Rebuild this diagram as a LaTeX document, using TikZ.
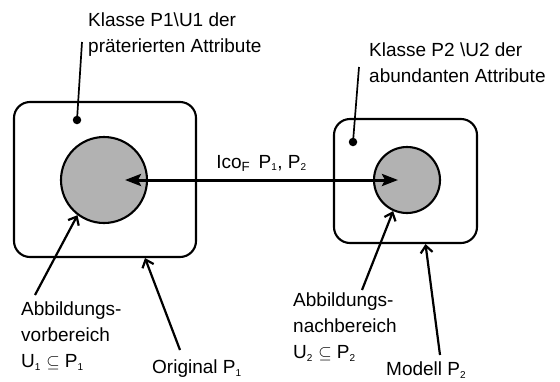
\documentclass[tikz,border=0pt]{standalone}
\usepackage{fontspec}
\setmainfont{Liberation Sans}
\usetikzlibrary{positioning,arrows.meta}
\newcommand{\lowidx}[1]{\textsubscript{\fontsize{10}{10}\selectfont #1}}

\begin{document}
\begin{tikzpicture}[x=1pt, y=-1pt,
  every node/.style={font=\fontsize{19}{26}\selectfont},
  framebox/.style={draw, line width=2.1pt, rounded corners=16pt},
  area/.style={circle, draw, line width=2.1pt, fill=black!30, inner sep=0pt},
  pt/.style={circle, fill, inner sep=0pt, minimum size=8.5pt},
  lab/.style={align=left, anchor=north west, inner sep=0pt},
  lead/.style={line width=1.7pt},
  pointer/.style={line width=2.2pt, -{Straight Barb[length=7pt,width=12pt]}},
  mapping/.style={line width=3pt, {Stealth[length=16pt,width=12pt,inset=3pt]}-{Stealth[length=16pt,width=12pt,inset=3pt]}},
]
\useasboundingbox (0,0) rectangle (560,381);
% original and model
\node[framebox, minimum width=182pt, minimum height=155pt] (box1) at (105,179.5) {};
\node[framebox, minimum width=143pt, minimum height=124pt] (box2) at (405.5,181) {};
\node[area, minimum size=86pt] (c1) at (104,180) {};
\node[area, minimum size=66pt] (c2) at (407,180) {};
\node[pt] (d1) at (77,120) {};
\node[pt] (d2) at (353,142) {};
% mapping between the two domains
\draw[mapping] ([xshift=21pt]c1.center) -- node[anchor=base, yshift=12pt] (ico)
  {Ico\textsubscript{F}\, P\lowidx{1}, P\lowidx{2}} ([xshift=-9pt]c2.center);
% labels
\node[lab] (kl1)  at (88,13)   {Klasse P1\textbackslash U1 der\\präterierten Attribute};
\node[lab] (kl2)  at (369,43)  {Klasse P2 \textbackslash U2 der\\abundanten Attribute};
\node[lab] (vor)  at (21,302)  {Abbildungs-\\vorbereich\\U\lowidx{1} $\subseteq$ P\lowidx{1}};
\node[lab] (orig) at (152,360) {Original P\lowidx{1}};
\node[lab] (nach) at (293,293) {Abbildungs-\\nachbereich\\U\lowidx{2} $\subseteq$ P\lowidx{2}};
\node[lab] (mod)  at (386,362) {Modell P\lowidx{2}};
\draw[lead] (d1.center) -- ([xshift=-6pt,yshift=-29pt]kl1.north west);
\draw[lead] (d2.center) -- ([xshift=-10pt,yshift=-24pt]kl2.north west);
\draw[pointer] ([xshift=14pt,yshift=7pt]vor.north west) -- (c1.233);
\draw[pointer] ([xshift=28pt,yshift=10pt]orig.north west) -- ([xshift=40pt]box1.south);
\draw[pointer] ([xshift=69pt,yshift=3pt]nach.north west) -- (c2.246);
\draw[pointer] ([xshift=54pt,yshift=7pt]mod.north west) -- ([xshift=20pt]box2.south);
\end{tikzpicture}
\end{document}
